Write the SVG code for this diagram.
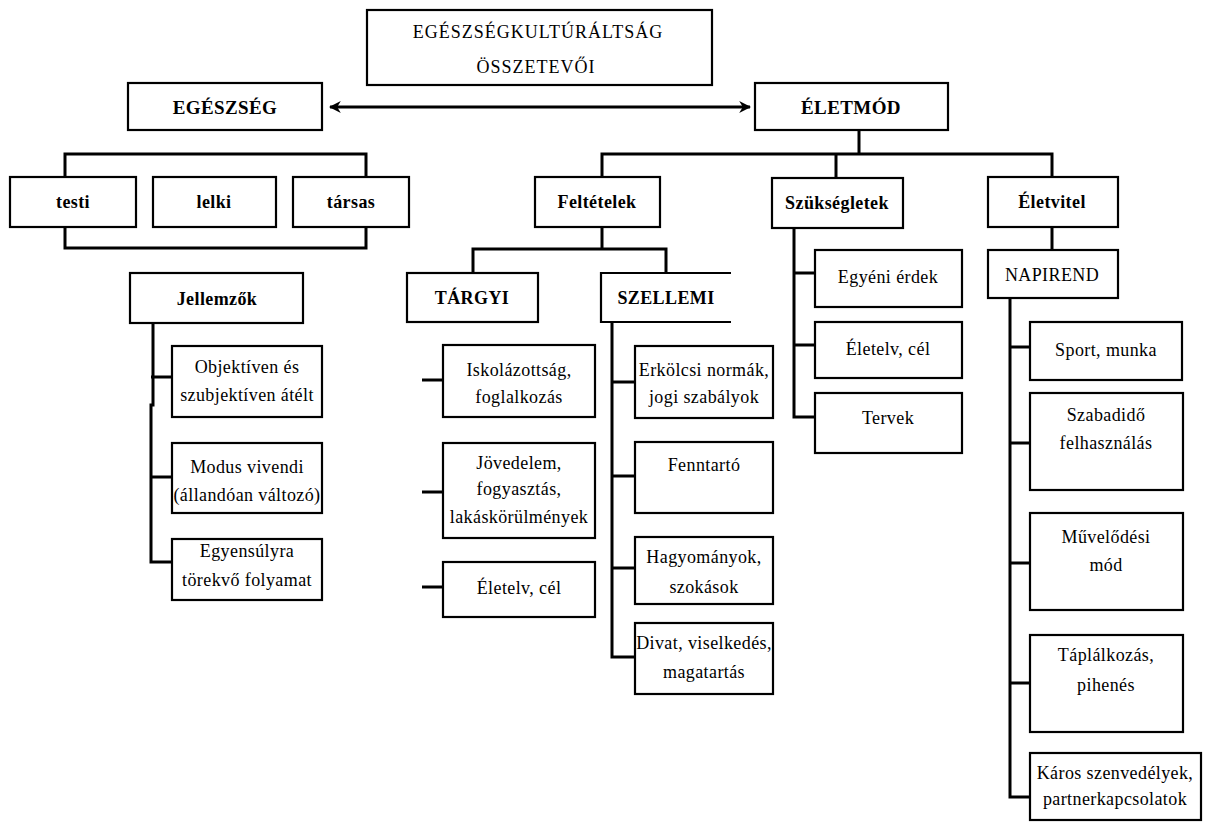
<svg xmlns="http://www.w3.org/2000/svg" width="1205" height="823" viewBox="0 0 1205 823">
<style>
rect.b{fill:#fff;stroke:#000;stroke-width:2.2}
.c path,.c line{fill:none;stroke:#000;stroke-width:3}
text{font-size:18px;letter-spacing:0.4px;fill:#000;text-anchor:middle}
text.h{font-weight:bold}
</style>
<defs>
<marker id="ah" viewBox="0 0 10 10" refX="9" refY="5" markerWidth="4" markerHeight="4" orient="auto-start-reverse" markerUnits="strokeWidth">
<path d="M0,0 L10,5 L0,10 L3,5 Z" fill="#000"/>
</marker>
</defs>
<rect width="1205" height="823" fill="#fff"/>
<g class="c" id="connectors">
<line x1="330" y1="107" x2="750" y2="107" marker-start="url(#ah)" marker-end="url(#ah)"/>
<path d="M65,177 V154 H366 V177"/>
<path d="M65,227 V248 H366 V227"/>
<path d="M859,130 V154"/>
<path d="M602,177 V154 H1052 V177"/>
<path d="M836,154 V178"/>
<path d="M602,227 V249"/>
<path d="M473,273 V249 H666 V273"/>
<path d="M153,323 V405 H151 V562 H172"/>
<path d="M151,377 H172 M151,477 H172"/>
<path d="M422,380 H443 M422,492 H443 M422,587 H443"/>
<path d="M612,322 V657 H635 M612,382 H635 M612,476 H635 M612,568 H635"/>
<path d="M794,228 V417 H815 M794,273 H815 M794,345 H815"/>
<path d="M1052,227 V250"/>
<path d="M1010,298 V797 H1030 M1010,347 H1030 M1010,443 H1030 M1010,563 H1030 M1010,683 H1030"/>
</g>
<g font-family="'Liberation Serif', 'DejaVu Serif', 'Times New Roman', serif">
<g id="title">
<rect class="b" x="367" y="10" width="345" height="75"/>
<text x="538" y="38" style="font-size:18px;letter-spacing:1px">EGÉSZSÉGKULTÚRÁLTSÁG</text>
<text x="536" y="73" style="font-size:18px;letter-spacing:1px">ÖSSZETEVŐI</text>
</g>
<g id="egeszseg"><rect class="b" x="128" y="83" width="194" height="47"/><text class="h" x="225" y="114" style="font-size:19px">EGÉSZSÉG</text></g>
<g id="eletmod"><rect class="b" x="755" y="83" width="193" height="47"/><text class="h" x="851" y="114" style="font-size:19px">ÉLETMÓD</text></g>
<g id="testi"><rect class="b" x="10" y="177" width="126" height="50"/><text class="h" x="73" y="208">testi</text></g>
<g id="lelki"><rect class="b" x="153" y="177" width="123" height="50"/><text class="h" x="214" y="208">lelki</text></g>
<g id="tarsas"><rect class="b" x="293" y="177" width="116" height="50"/><text class="h" x="351" y="208">társas</text></g>
<g id="jellemzok"><rect class="b" x="130" y="273" width="173" height="50"/><text class="h" x="217" y="305">Jellemzők</text></g>
<g id="j1"><rect class="b" x="172" y="346" width="150" height="71"/><text x="247" y="373">Objektíven és</text><text x="247" y="401">szubjektíven átélt</text></g>
<g id="j2"><rect class="b" x="172" y="443" width="150" height="70"/><text x="247" y="473">Modus vivendi</text><text x="247" y="501">(állandóan változó)</text></g>
<g id="j3"><rect class="b" x="172" y="539" width="150" height="61"/><text x="247" y="557">Egyensúlyra</text><text x="247" y="586">törekvő folyamat</text></g>
<g id="feltetelek"><rect class="b" x="535" y="177" width="125" height="50"/><text class="h" x="597" y="208">Feltételek</text></g>
<g id="targyi"><rect class="b" x="407" y="273" width="131" height="49"/><text class="h" x="472" y="304">TÁRGYI</text></g>
<g id="szellemi"><path d="M731,273 H601 V322 H731" fill="#fff" stroke="#000" stroke-width="2.2"/><text class="h" x="666" y="304">SZELLEMI</text></g>
<g id="t1"><rect class="b" x="443" y="345" width="152" height="72"/><text x="519" y="376">Iskolázottság,</text><text x="519" y="403">foglalkozás</text></g>
<g id="t2"><rect class="b" x="443" y="443" width="152" height="95"/><text x="519" y="469">Jövedelem,</text><text x="519" y="495">fogyasztás,</text><text x="519" y="523">lakáskörülmények</text></g>
<g id="t3"><rect class="b" x="443" y="562" width="152" height="55"/><text x="519" y="594">Életelv, cél</text></g>
<g id="s1"><rect class="b" x="635" y="346" width="138" height="72"/><text x="704" y="376">Erkölcsi normák,</text><text x="704" y="403">jogi szabályok</text></g>
<g id="s2"><rect class="b" x="635" y="442" width="138" height="71"/><text x="704" y="471">Fenntartó</text></g>
<g id="s3"><rect class="b" x="635" y="537" width="138" height="67"/><text x="704" y="563">Hagyományok,</text><text x="704" y="593">szokások</text></g>
<g id="s4"><rect class="b" x="635" y="623" width="138" height="71"/><text x="704" y="649">Divat, viselkedés,</text><text x="704" y="678">magatartás</text></g>
<g id="szuksegletek"><rect class="b" x="772" y="178" width="131" height="50"/><text class="h" x="837" y="209">Szükségletek</text></g>
<g id="k1"><rect class="b" x="815" y="250" width="147" height="57"/><text x="888" y="283">Egyéni érdek</text></g>
<g id="k2"><rect class="b" x="815" y="322" width="147" height="56"/><text x="888" y="355">Életelv, cél</text></g>
<g id="k3"><rect class="b" x="815" y="393" width="147" height="60"/><text x="888" y="424">Tervek</text></g>
<g id="eletvitel"><rect class="b" x="988" y="177" width="130" height="50"/><text class="h" x="1052" y="208">Életvitel</text></g>
<g id="napirend"><rect class="b" x="988" y="250" width="130" height="48"/><text x="1052" y="281">NAPIREND</text></g>
<g id="n1"><rect class="b" x="1030" y="322" width="152" height="58"/><text x="1106" y="356">Sport, munka</text></g>
<g id="n2"><rect class="b" x="1030" y="393" width="153" height="97"/><text x="1106" y="421">Szabadidő</text><text x="1106" y="449">felhasználás</text></g>
<g id="n3"><rect class="b" x="1030" y="513" width="153" height="97"/><text x="1106" y="543">Művelődési</text><text x="1106" y="571">mód</text></g>
<g id="n4"><rect class="b" x="1030" y="635" width="153" height="97"/><text x="1106" y="661">Táplálkozás,</text><text x="1106" y="691">pihenés</text></g>
<g id="n5"><rect class="b" x="1030" y="753" width="171" height="67"/><text x="1115" y="779">Káros szenvedélyek,</text><text x="1115" y="805">partnerkapcsolatok</text></g>
</g>
</svg>
